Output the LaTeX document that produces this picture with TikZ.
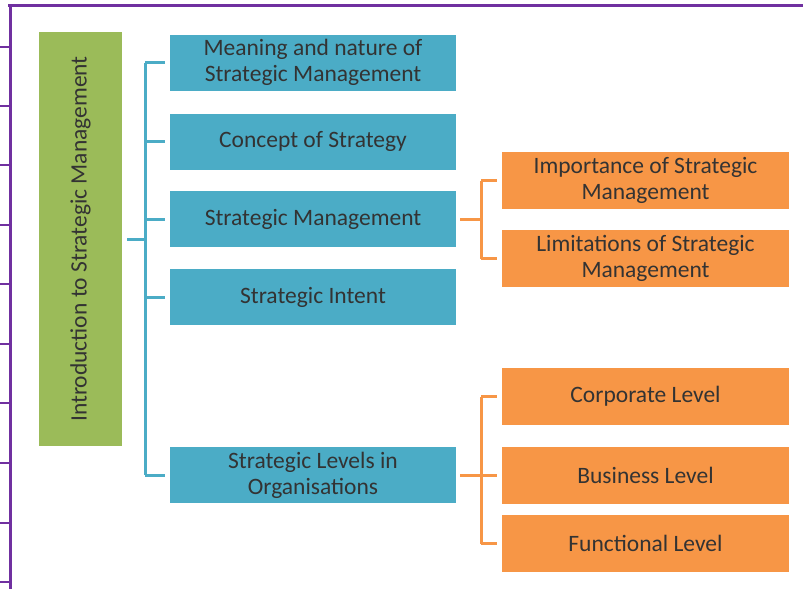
\documentclass[tikz,border=0pt]{standalone}
\usepackage{fontspec}
\setmainfont{Carlito}
\usetikzlibrary{calc}
\definecolor{topicBlue}{RGB}{75,172,198}
\definecolor{subOrange}{RGB}{247,150,70}
\definecolor{rootGreen}{RGB}{155,187,89}
\definecolor{framePurple}{RGB}{112,48,160}
\tikzset{
  basebox/.style={inner sep=2pt,align=center,text=black!80,
    font=\fontsize{23.5}{26}\selectfont},
  bluebox/.style={basebox,fill=topicBlue,minimum width=286pt,minimum height=56pt},
  orangebox/.style={basebox,fill=subOrange,minimum width=287pt,minimum height=57pt},
  rootbox/.style={basebox,fill=rootGreen,minimum width=83pt,minimum height=414pt},
  bluelink/.style={draw=topicBlue,line width=3pt},
  orangelink/.style={draw=subOrange,line width=3pt},
}

\begin{document}
\begin{tikzpicture}[x=1pt,y=-1pt]
\useasboundingbox (0,0) rectangle (803,589);
% frame
\draw[framePurple,line width=3pt] (8,5.5) -- (803,5.5);
\draw[framePurple,line width=3pt] (10,4) -- (10,589);
\foreach \ty in {47,106,165,225,284,344,403,463,523,582}
  \draw[framePurple,line width=1.2pt] (0,\ty) -- (10,\ty);

% root
\node[rootbox] (root) at (80.5,239) {};
\node[basebox,rotate=90] at (root.center) {Introduction to Strategic Management};

% first level
\node[bluebox] (meaning)  at (313,62.5)  {Meaning and nature of\\Strategic Management};
\node[bluebox] (concept)  at (313,141.5) {Concept of Strategy};
\node[bluebox] (stratman) at (313,219)   {Strategic Management};
\node[bluebox] (intent)   at (313,297)   {Strategic Intent};
\node[bluebox] (levels)   at (313,475)   {Strategic Levels in\\Organisations};

% second level
\node[orangebox] (importance)  at (645.5,180.5) {Importance of Strategic\\Management};
\node[orangebox] (limitations) at (645.5,258.5) {Limitations of Strategic\\Management};
\node[orangebox] (corporate)   at (645.5,396.5) {Corporate Level};
\node[orangebox] (business)    at (645.5,475)   {Business Level};
\node[orangebox] (functional)  at (645.5,543.5) {Functional Level};

% connectors
\coordinate (spine) at (145,0);
\coordinate (fork) at (481,0);
\draw[bluelink] ([xshift=5pt]root.east) -- (spine |- root);
\draw[bluelink] (spine |- meaning) -- (spine |- levels);
\foreach \n in {meaning,concept,stratman,intent,levels}
  \draw[bluelink] (spine |- \n) -- ([xshift=-5pt]\n.west);

\draw[orangelink] ([xshift=4pt]stratman.east) -- (fork |- stratman);
\draw[orangelink] (fork |- importance) -- (fork |- limitations);
\draw[orangelink] ([xshift=4pt]levels.east) -- (fork |- levels);
\draw[orangelink] (fork |- corporate) -- (fork |- functional);
\foreach \n in {importance,limitations,corporate,business,functional}
  \draw[orangelink] (fork |- \n) -- ([xshift=-5pt]\n.west);
\end{tikzpicture}
\end{document}
